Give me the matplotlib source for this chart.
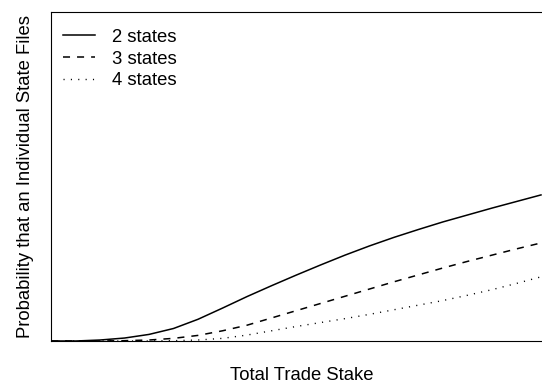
import numpy as np
import matplotlib
matplotlib.use('Agg')
import matplotlib.pyplot as plt

plt.rcParams['font.family'] = ['Liberation Sans', 'DejaVu Sans']

# Total trade stake (arbitrary units) and filing probabilities
stake = [0, 0.5, 1, 1.5, 2, 2.5, 3, 3.5, 4, 4.5, 5, 5.5, 6, 6.5, 7, 7.5, 8, 8.5, 9, 9.5, 10]
p2 = [0, 0, 0.003, 0.009, 0.020, 0.038, 0.066, 0.100, 0.135, 0.168, 0.200,
      0.231, 0.261, 0.289, 0.315, 0.339, 0.362, 0.383, 0.404, 0.424, 0.444]
p3 = [0, 0, 0, 0.001, 0.003, 0.008, 0.017, 0.031, 0.048, 0.070, 0.092,
      0.114, 0.136, 0.158, 0.180, 0.201, 0.222, 0.242, 0.261, 0.280, 0.298]
p4 = [0, 0, 0, 0, 0, 0.001, 0.003, 0.008, 0.018, 0.031, 0.044,
      0.056, 0.068, 0.081, 0.095, 0.109, 0.123, 0.139, 0.156, 0.175, 0.195]

fig = plt.figure(figsize=(5.42, 3.85), dpi=100)
ax = fig.add_axes([51/542, 44/385, 502/542, 329/385])

ax.plot(stake, p2, color='black', lw=1.1, label='2 states')
ax.plot(stake, p3, color='black', lw=1.1, dashes=(4.6, 4.6), label='3 states')
ax.plot(stake, p4, color='black', lw=1.0, dashes=(0.8, 4.5), label='4 states')

ax.set_xlim(0, 10.245)
ax.set_ylim(0, 1)
ax.set_xticks([])
ax.set_yticks([])
ax.spines['right'].set_visible(False)
ax.set_xlabel('Total Trade Stake', fontsize=13.3, labelpad=18.5)
ax.set_ylabel('Probability that an Individual State Files', fontsize=13.3, labelpad=12)
ax.legend(loc='upper left', bbox_to_anchor=(0, 0.985), frameon=False, fontsize=13.3,
          handlelength=1.75, handletextpad=0.9, labelspacing=0.25, borderaxespad=0.25)

fig.savefig('out.png', dpi=100)
